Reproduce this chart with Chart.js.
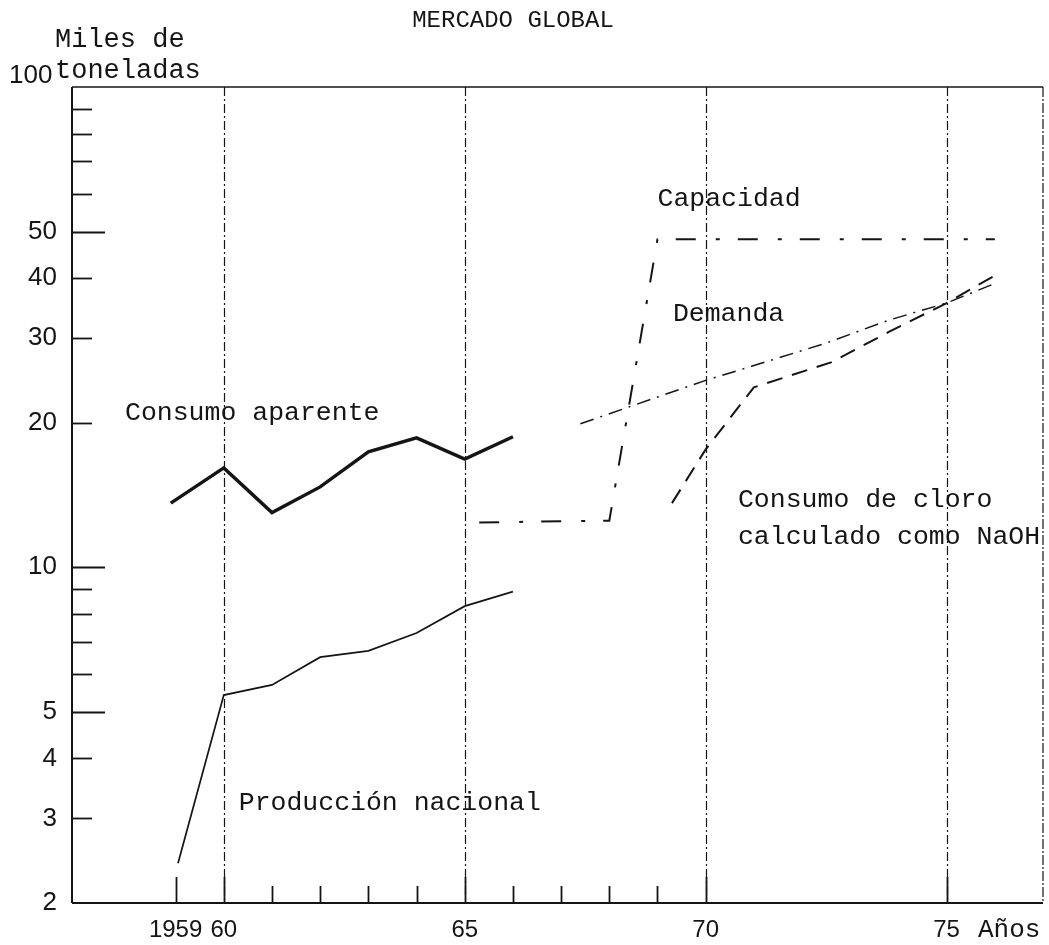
<!DOCTYPE html>
<html lang="es">
<head>
<meta charset="utf-8">
<title>Mercado global</title>
<script src="https://cdn.jsdelivr.net/npm/chart.js@4.4.1/dist/chart.umd.min.js"></script>
<style>
  html, body { margin: 0; padding: 0; background: #fff; }
  #wrap { width: 1049px; height: 945px; position: relative; }
</style>
</head>
<body>
<div id="wrap"><canvas id="chart"></canvas></div>
<script>
// ---- Series (miles de toneladas, escala logarítmica) ----
const consumoAparenteYears = [1958.9, 1960, 1961, 1962, 1963, 1964, 1965, 1966];
const consumoAparente      = [13.6, 16.1, 13.0, 14.7, 17.4, 18.6, 16.8, 18.7];

const produccionYears    = [1959.05, 1960, 1961, 1962, 1963, 1964, 1965, 1966];
const produccionNacional = [2.42, 5.42, 5.69, 6.5, 6.7, 7.3, 8.3, 8.9];

const capacidadYears = [1965.3, 1968, 1969, 1976];
const capacidad      = [12.4, 12.5, 48.2, 48.2];

const demandaYears = [1967.4, 1970, 1971, 1972.5, 1973.8, 1975, 1976];
const demanda      = [19.9, 24.5, 26.3, 29.3, 32.7, 35.5, 39.0];

const cloroYears   = [1969.3, 1970, 1971, 1972.6, 1973.8, 1975, 1976];
const consumoCloro = [13.6, 17.6, 23.7, 26.7, 30.9, 35.5, 40.5];

// ---- Axis ticks ----
const xLabelYears = [1959, 1960, 1965, 1970, 1975];
const xTickLabels = ['1959', '60', '65', '70', '75'];
const xTickYears  = [1959, 1960, 1961, 1962, 1963, 1964, 1965, 1966, 1967, 1968, 1969, 1970, 1975];
const xMajorYears = [1959, 1960, 1965, 1970, 1975];
const xGridYears  = [1960, 1965, 1970, 1975];

const yLabelValues = [2, 3, 4, 5, 10, 20, 30, 40, 50];
const yTickValues  = [3, 4, 5, 6, 7, 8, 9, 10, 20, 30, 40, 50, 60, 70, 80, 90];
const yMajorValues = [5, 10, 50];

// ---- Text placed on the plot (año, valor de la línea base) ----
const seriesNames = ['Capacidad', 'Demanda', 'Consumo aparente', 'Consumo de cloro', 'calculado como NaOH', 'Producción nacional'];
const nameYears   = [1969.0, 1969.32, 1957.95, 1970.67, 1970.67, 1960.31];
const nameValues  = [56.5, 32.6, 20.3, 13.35, 11.2, 3.12];

const INK = '#151515';
const MONO = "'Liberation Mono', 'Courier New', monospace";
const SANS = "'Liberation Sans', Arial, sans-serif";

function pts(xs, ys) { return xs.map((x, i) => ({ x: x, y: ys[i] })); }

function seg(ctx, x1, y1, x2, y2) {
  ctx.beginPath(); ctx.moveTo(x1, y1); ctx.lineTo(x2, y2); ctx.stroke();
}

// Frame, dash-dot year guides and inward tick marks
const framePlugin = {
  id: 'frame',
  beforeDatasetsDraw(chart) {
    const { ctx, chartArea: a, scales: { x, y } } = chart;
    ctx.save();
    ctx.strokeStyle = INK;
    ctx.lineCap = 'butt';

    ctx.lineWidth = 1.2;
    ctx.setLineDash([9, 3, 2, 3]);
    xGridYears.forEach(v => {
      const px = Math.round(x.getPixelForValue(v)) + 0.5;
      seg(ctx, px, a.top, px, a.bottom);
    });
    ctx.setLineDash([10, 2, 2, 2]);
    seg(ctx, a.right, a.top, a.right, a.bottom);
    ctx.setLineDash([]);

    ctx.lineWidth = 1.6;
    seg(ctx, a.left, a.top, a.right, a.top);
    ctx.lineWidth = 2;
    seg(ctx, a.left, a.top, a.left, a.bottom);
    seg(ctx, a.left, a.bottom, a.right, a.bottom);

    ctx.lineWidth = 1.8;
    yTickValues.forEach(v => {
      const py = Math.round(y.getPixelForValue(v)) + 0.5;
      const len = yMajorValues.includes(v) ? 33 : 20;
      seg(ctx, a.left, py, a.left + len, py);
    });
    xTickYears.forEach(v => {
      const px = Math.round(x.getPixelForValue(v)) + 0.5;
      const len = xMajorYears.includes(v) ? 26 : 17;
      seg(ctx, px, a.bottom, px, a.bottom - len);
    });
    ctx.restore();
  },
  afterDraw(chart) {
    const { ctx, chartArea: a, scales: { x, y } } = chart;
    ctx.save();
    ctx.fillStyle = INK;
    ctx.textBaseline = 'alphabetic';

    ctx.font = '24px ' + MONO;
    ctx.textAlign = 'center';
    ctx.fillText('MERCADO GLOBAL', 513, 27);

    ctx.textAlign = 'left';
    ctx.font = '27px ' + MONO;
    ctx.fillText('Miles de', 55, 47);
    ctx.fillText('toneladas', 55, 78);

    ctx.font = '26px ' + SANS;
    ctx.fillText('100', 9, y.getPixelForValue(100) - 4);

    ctx.font = '26px ' + MONO;
    ctx.fillText('Años', 978, 937);

    ctx.font = '26.5px ' + MONO;
    seriesNames.forEach((t, i) => {
      ctx.fillText(t, x.getPixelForValue(nameYears[i]), y.getPixelForValue(nameValues[i]));
    });
    ctx.restore();
  }
};

const common = { borderColor: INK, pointRadius: 0, tension: 0, fill: false, borderCapStyle: 'butt', borderJoinStyle: 'miter' };

new Chart(document.getElementById('chart'), {
  type: 'line',
  data: {
    datasets: [
      Object.assign({ label: 'Consumo aparente', data: pts(consumoAparenteYears, consumoAparente), borderWidth: 3.4 }, common),
      Object.assign({ label: 'Producción nacional', data: pts(produccionYears, produccionNacional), borderWidth: 1.7 }, common),
      Object.assign({ label: 'Capacidad', data: pts(capacidadYears, capacidad), borderWidth: 2, borderDash: [20, 20, 4, 18] }, common),
      Object.assign({ label: 'Demanda', data: pts(demandaYears, demanda), borderWidth: 1.5, borderDash: [14, 7, 2, 7] }, common),
      Object.assign({ label: 'Consumo de cloro', data: pts(cloroYears, consumoCloro), borderWidth: 2, borderDash: [16, 10] }, common)
    ]
  },
  options: {
    responsive: true,
    maintainAspectRatio: false,
    devicePixelRatio: 1,
    animation: false,
    layout: { padding: { left: 0, top: 87, right: 6, bottom: 0 } },
    plugins: { legend: { display: false }, tooltip: { enabled: false }, title: { display: false } },
    scales: {
      x: {
        type: 'linear',
        min: 1956.85,
        max: 1977,
        grid: { display: false, drawTicks: false },
        border: { display: false },
        afterBuildTicks(scale) { scale.ticks = xLabelYears.map(v => ({ value: v })); },
        afterFit(scale) { scale.height = 42; },
        ticks: {
          autoSkip: false,
          maxRotation: 0,
          padding: 13,
          color: INK,
          font: { family: SANS, size: 24 },
          callback: (v) => xTickLabels[xLabelYears.indexOf(v)] ?? ''
        }
      },
      y: {
        type: 'logarithmic',
        min: 2,
        max: 100,
        grid: { display: false, drawTicks: false },
        border: { display: false },
        afterBuildTicks(scale) { scale.ticks = yLabelValues.map(v => ({ value: v })); },
        afterFit(scale) { scale.width = 72; },
        ticks: {
          autoSkip: false,
          padding: 15,
          color: INK,
          font: { family: SANS, size: 26 },
          callback: (v) => yLabelValues.includes(v) ? String(v) : ''
        }
      }
    }
  },
  plugins: [framePlugin]
});
</script>
</body>
</html>
